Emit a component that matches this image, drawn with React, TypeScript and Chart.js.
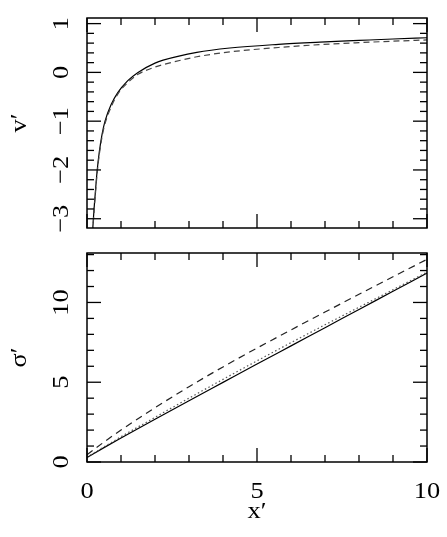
import React, { useEffect, useRef } from "react";
import { Chart, registerables } from "chart.js";
Chart.register(...registerables);

// ---- Top panel: v' vs x' ----
const xSolidTop = [0.15, 0.17, 0.19, 0.22, 0.25, 0.294, 0.36, 0.44, 0.53, 0.71, 0.9, 1.2, 1.5, 2.0, 2.24, 3.23, 4.2, 5.63, 6.85, 8.0, 9.0, 10.0];
const vSolid = [-3.45, -3.2, -2.98, -2.68, -2.42, -2.05, -1.64, -1.28, -1.0, -0.66, -0.42, -0.17, 0.0, 0.19, 0.25, 0.41, 0.5, 0.575, 0.62, 0.655, 0.685, 0.71];
const xDashedTop = [0.15, 0.17, 0.19, 0.22, 0.25, 0.294, 0.36, 0.44, 0.53, 0.71, 0.9, 1.2, 1.5, 2.0, 2.24, 3.23, 4.2, 5.63, 6.85, 8.0, 9.0, 10.0];
const vDashed = [-3.5, -3.25, -3.03, -2.73, -2.47, -2.1, -1.69, -1.33, -1.05, -0.71, -0.45, -0.21, -0.04, 0.11, 0.16, 0.32, 0.42, 0.51, 0.57, 0.61, 0.64, 0.665];

// ---- Bottom panel: sigma' vs x' ----
const xBottom = [0, 0.5, 1, 2, 3, 4, 5, 6, 7, 8, 9, 10];
const sigmaSolid = [0.28, 0.9, 1.5, 2.68, 3.84, 4.99, 6.14, 7.28, 8.42, 9.56, 10.7, 11.84];
const sigmaDotted = [0.3, 0.95, 1.58, 2.8, 4.0, 5.18, 6.34, 7.48, 8.6, 9.7, 10.8, 11.9];
const sigmaDashed = [0.45, 1.25, 2.0, 3.4, 4.72, 5.96, 7.14, 8.28, 9.4, 10.51, 11.61, 12.7];

// ---- Axes ----
const xRange = [0, 10];
const vRange = [-3.19, 1.115];
const sigmaRange = [0, 13.1];
const xTickLabels = ["0", "5", "10"];
const xMajor = [0, 5, 10];
const xMinorStep = 1;
const vTickLabels = ["−3", "−2", "−1", "0", "1"];
const vMajor = [-3, -2, -1, 0, 1];
const vMinorStep = 0.2;
const sigmaTickLabels = ["0", "5", "10"];
const sigmaMajor = [0, 5, 10];
const sigmaMinorStep = 1;

const FONT = '24px "Liberation Serif", "Times New Roman", serif';
const STRETCH = 1.1;

function pts(xs: number[], ys: number[]) {
  return xs.map((x, i) => ({ x, y: ys[i] }));
}

function ticksBetween(min: number, max: number, step: number) {
  const out: number[] = [];
  const start = Math.ceil(min / step - 1e-6);
  const end = Math.floor(max / step + 1e-6);
  for (let k = start; k <= end; k++) out.push(k * step);
  return out;
}

function isMajor(v: number, majors: number[]) {
  return majors.some((m) => Math.abs(m - v) < 1e-6);
}

function drawText(ctx: CanvasRenderingContext2D, text: string, x: number, y: number, rotate: boolean) {
  ctx.save();
  ctx.translate(x, y);
  if (rotate) ctx.rotate(-Math.PI / 2);
  ctx.scale(STRETCH, 1);
  ctx.textAlign = "center";
  ctx.textBaseline = "alphabetic";
  ctx.fillText(text, 0, 0);
  ctx.restore();
}

function framePlugin(opts: {
  yMajor: number[];
  yMinorStep: number;
  yLabels: string[];
  yTitle: string;
  showX: boolean;
}) {
  return {
    id: "frame",
    afterDraw(chart: any) {
      const { ctx, chartArea: a, scales } = chart;
      const xs = scales.x;
      const ys = scales.y;
      ctx.save();
      ctx.strokeStyle = "#000";
      ctx.fillStyle = "#000";
      ctx.lineWidth = 1.5;
      ctx.strokeRect(a.left, a.top, a.right - a.left, a.bottom - a.top);
      ctx.lineWidth = 1.3;
      const seg = (x1: number, y1: number, x2: number, y2: number) => {
        ctx.beginPath();
        ctx.moveTo(x1, y1);
        ctx.lineTo(x2, y2);
        ctx.stroke();
      };
      for (const t of ticksBetween(xs.min, xs.max, xMinorStep)) {
        const px = xs.getPixelForValue(t);
        const len = isMajor(t, xMajor) ? 14 : 7;
        seg(px, a.bottom, px, a.bottom - len);
        seg(px, a.top, px, a.top + len);
      }
      for (const t of ticksBetween(ys.min, ys.max, opts.yMinorStep)) {
        const py = ys.getPixelForValue(t);
        const len = isMajor(t, opts.yMajor) ? 14 : 7;
        seg(a.left, py, a.left + len, py);
        seg(a.right, py, a.right - len, py);
      }
      ctx.font = FONT;
      opts.yMajor.forEach((v, i) => {
        drawText(ctx, opts.yLabels[i], 68, ys.getPixelForValue(v), true);
      });
      drawText(ctx, opts.yTitle, 26, (a.top + a.bottom) / 2, true);
      if (opts.showX) {
        xMajor.forEach((v, i) => {
          drawText(ctx, xTickLabels[i], xs.getPixelForValue(v), a.bottom + 36, false);
        });
        drawText(ctx, "x′", (a.left + a.right) / 2, a.bottom + 56, false);
      }
      ctx.restore();
    },
  };
}

function baseOptions(yr: number[], padding: any) {
  return {
    animation: false,
    responsive: false,
    devicePixelRatio: 1,
    layout: { padding },
    plugins: { legend: { display: false }, tooltip: { enabled: false } },
    elements: { point: { radius: 0 } },
    scales: {
      x: { type: "linear", min: xRange[0], max: xRange[1], display: false },
      y: { type: "linear", min: yr[0], max: yr[1], display: false },
    },
  };
}

function ds(data: any[], color: string, dash: number[], width = 1.2) {
  return {
    data,
    showLine: true,
    borderColor: color,
    borderWidth: width,
    borderDash: dash,
    pointRadius: 0,
    fill: false,
    cubicInterpolationMode: "monotone",
  };
}

export default function App() {
  const topRef = useRef<HTMLCanvasElement>(null);
  const botRef = useRef<HTMLCanvasElement>(null);

  useEffect(() => {
    const top = new Chart(topRef.current as HTMLCanvasElement, {
      type: "scatter",
      data: {
        datasets: [
          ds(pts(xDashedTop, vDashed), "#444", [6, 4]),
          ds(pts(xSolidTop, vSolid), "#000", []),
        ],
      },
      options: baseOptions(vRange, { left: 87, right: 20, top: 18, bottom: 12 }) as any,
      plugins: [
        framePlugin({ yMajor: vMajor, yMinorStep: vMinorStep, yLabels: vTickLabels, yTitle: "v′", showX: false }),
      ],
    } as any);
    const bot = new Chart(botRef.current as HTMLCanvasElement, {
      type: "scatter",
      data: {
        datasets: [
          ds(pts(xBottom, sigmaDashed), "#222", [7, 5]),
          ds(pts(xBottom, sigmaDotted), "#555", [1.5, 2.5]),
          ds(pts(xBottom, sigmaSolid), "#000", []),
        ],
      },
      options: baseOptions(sigmaRange, { left: 87, right: 20, top: 13, bottom: 75 }) as any,
      plugins: [
        framePlugin({ yMajor: sigmaMajor, yMinorStep: sigmaMinorStep, yLabels: sigmaTickLabels, yTitle: "σ′", showX: true }),
      ],
    } as any);
    return () => {
      top.destroy();
      bot.destroy();
    };
  }, []);

  return (
    <div style={{ position: "absolute", left: 0, top: 0, width: 447, height: 537, background: "#fff" }}>
      <canvas
        ref={topRef}
        width={447}
        height={240}
        style={{ position: "absolute", left: 0, top: 0, width: 447, height: 240 }}
      />
      <canvas
        ref={botRef}
        width={447}
        height={297}
        style={{ position: "absolute", left: 0, top: 240, width: 447, height: 297 }}
      />
    </div>
  );
}
